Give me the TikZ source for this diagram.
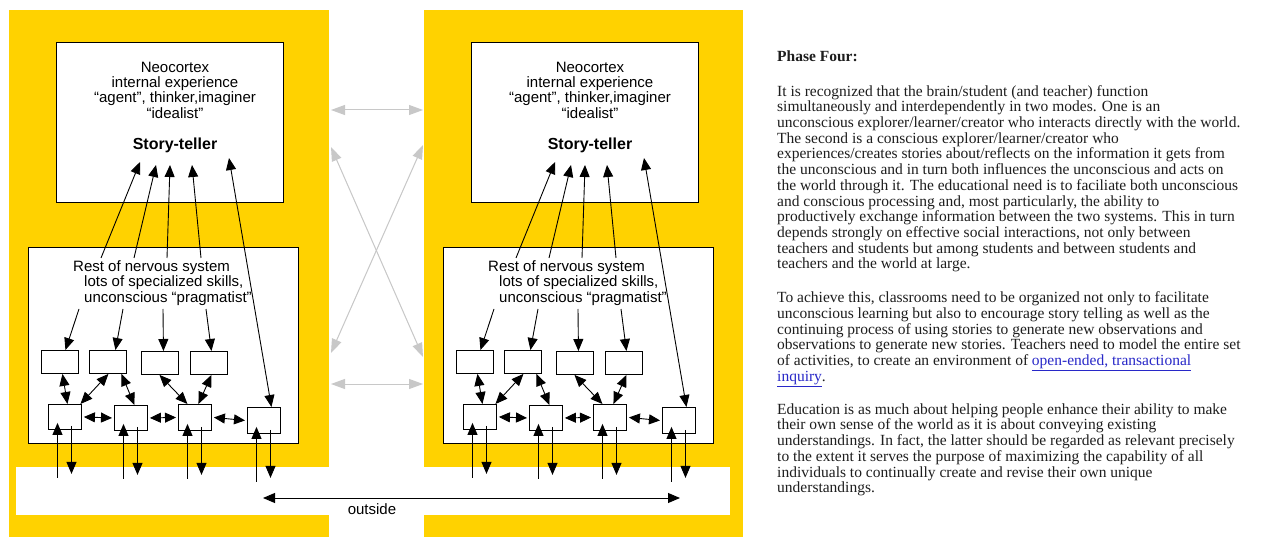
\documentclass[tikz,border=0pt]{standalone}
\usepackage{fontspec}
\setmainfont{Liberation Serif}
\newfontfamily\diafont{Liberation Sans}
\usetikzlibrary{arrows.meta,calc}
\definecolor{panelyellow}{RGB}{255,210,0}
\definecolor{linkblue}{RGB}{40,40,200}
\definecolor{graylink}{RGB}{200,200,200}
\definecolor{textcol}{RGB}{30,30,30}
\tikzset{
  bx/.style={draw=black, line width=1pt, fill=white, inner sep=0pt, anchor=north west},
  sbx/.style={draw=black, line width=0.9pt, fill=white, inner sep=0pt, anchor=north west},
  arr/.style={line width=0.9pt, -{Triangle[length=12pt,width=10pt]}},
  darr/.style={line width=0.9pt, {Triangle[length=12pt,width=10pt]}-{Triangle[length=12pt,width=10pt]}},
  harr/.style={line width=0.9pt, {Triangle[length=11pt,width=10pt]}-{Triangle[length=11pt,width=10pt]}},
  garr/.style={draw=graylink, fill=graylink, line width=1pt, {Triangle[length=14pt,width=10pt]}-{Triangle[length=14pt,width=10pt]}},
  diatxt/.style={font=\diafont\fontsize{15}{15.3}\selectfont, inner sep=0pt},
  bodytxt/.style={font=\fontsize{15.5}{15.7}\selectfont, text=textcol, inner sep=0pt, align=left, anchor=north west}
}
\begin{document}
\begin{tikzpicture}[x=1pt, y=-1pt]
\useasboundingbox (0,0) rectangle (1261,537);
\fill[white] (0,0) rectangle (1261,537);
% yellow panels and outside strip
\fill[panelyellow] (9,10) rectangle (329,537);
\fill[panelyellow] (424,10) rectangle (743,537);
\fill[white] (16,467) rectangle (730,515);

\foreach \p/\dx in {L/0,R/415}{
\begin{scope}[xshift=\dx pt]
  \node[bx, minimum width=227, minimum height=160] (\p neo) at (56,42) {};
  \node[bx, minimum width=270, minimum height=196] (\p rest) at (28,247) {};
  \node[diatxt, anchor=north, align=center] (\p neotxt) at (175,61)
    {\rule{0pt}{11pt}Neocortex\\internal experience\\“agent”, thinker,imaginer\\“idealist”};
  \node[font=\diafont\bfseries\fontsize{16}{18}\selectfont, inner sep=0pt, anchor=base] (\p st) at (175,150) {Story-teller};
  \node[diatxt, anchor=north west, align=left, font=\diafont\fontsize{15}{15.5}\selectfont] (\p resttxt) at (73,260)
    {\rule{0pt}{11pt}Rest of nervous system\\\hspace*{11pt}lots of specialized skills,\\\hspace*{11pt}unconscious “pragmatist”};
  % small boxes
  \node[sbx, minimum width=37, minimum height=23] (\p b1) at (41,350) {};
  \node[sbx, minimum width=37, minimum height=23] (\p b2) at (89,350) {};
  \node[sbx, minimum width=37, minimum height=23] (\p b3) at (141,351) {};
  \node[sbx, minimum width=37, minimum height=23] (\p b4) at (190,351) {};
  \node[sbx, minimum width=33, minimum height=25] (\p b5) at (48,404) {};
  \node[sbx, minimum width=33, minimum height=25] (\p b6) at (114,405) {};
  \node[sbx, minimum width=33, minimum height=26] (\p b7) at (178,404) {};
  \node[sbx, minimum width=33, minimum height=26] (\p b8) at (247,407) {};
  % arrows up to the story-teller
  \coordinate (\p s1) at (101,258); \coordinate (\p t1) at (140,162);
  \coordinate (\p s2) at (134,258); \coordinate (\p t2) at (156,165);
  \coordinate (\p s3) at (167,258); \coordinate (\p t3) at (170,165);
  \coordinate (\p s4) at (201,258); \coordinate (\p t4) at (192,165);
  \coordinate (\p t5) at (229,158);
  \draw[arr] (\p s1) -- (\p t1);
  \draw[arr] (\p s2) -- (\p t2);
  \draw[arr] (\p s3) -- (\p t3);
  \draw[arr] (\p s4) -- (\p t4);
  \draw[darr] (\p t5) -- ($(\p b8.north)+(7.5,0)$);
  % arrows down to upper small boxes
  \coordinate (\p d1) at (79,309);
  \coordinate (\p d2) at (123,309);
  \coordinate (\p d3) at (163,309);
  \coordinate (\p d4) at (206,309);
  \draw[arr] (\p d1) -- ($(\p b1.north)+(5.5,0)$);
  \draw[arr] (\p d2) -- ($(\p b2.north)+(7.5,0)$);
  \draw[arr] (\p d3) -- ($(\p b3.north)+(3.5,0)$);
  \draw[arr] (\p d4) -- ($(\p b4.north)+(2.5,0)$);
  % between rows
  \draw[darr] ($(\p b1.south)+(2.5,0)$) -- ($(\p b5.north)+(2.5,0)$);
  \draw[darr] ($(\p b2.south)+(0.5,0)$) -- ($(\p b5.north)+(15.5,0)$);
  \draw[darr] ($(\p b2.south)+(13.5,0)$) -- ($(\p b6.north)+(3.5,0)$);
  \draw[darr] ($(\p b3.south)+(-0.5,0)$) -- ($(\p b7.north)+(-7.5,0)$);
  \draw[darr] ($(\p b4.south)+(2.5,0)$) -- ($(\p b7.north)+(3.5,0)$);
  % lower row horizontal
  \draw[harr] ($(\p b5.east)+(2,0)$) -- ($(\p b6.west)+(-2,0)$);
  \draw[harr] ($(\p b6.east)+(2,0)$) -- ($(\p b7.west)+(-2,0)$);
  \draw[harr] ($(\p b7.east)+(2,0)$) -- ($(\p b8.west)+(-2,0)$);
  % to and from outside
  \foreach \b in {b5,b6,b7,b8}{
    \draw[arr] ($(\p\b.south west)+(9.5,48)$) -- ($(\p\b.south west)+(9.5,-7)$);
    \draw[arr] ($(\p\b.south west)+(23.5,-4)$) -- ($(\p\b.south west)+(23.5,44)$);
  }
\end{scope}
}

% outside
\coordinate (oL) at (263,498);
\coordinate (oR) at (680,498);
\draw[darr] (oL) -- (oR);
\node[font=\diafont\fontsize{15}{18}\selectfont, inner sep=0pt, anchor=base] (outside) at (372,514) {outside};

% gray arrows between the panels
\coordinate (g1) at (331,110); \coordinate (g2) at (423,110);
\coordinate (g3) at (331,147); \coordinate (g4) at (423,357);
\coordinate (g5) at (423,145); \coordinate (g6) at (331,353);
\coordinate (g7) at (331,384); \coordinate (g8) at (423,384);
\draw[garr] (g1) -- (g2);
\draw[garr] (g3) -- (g4);
\draw[garr] (g5) -- (g6);
\draw[garr] (g7) -- (g8);

% text column
\node[font=\bfseries\fontsize{15.5}{15.7}\selectfont, text=textcol, inner sep=0pt, anchor=base west] (title) at (777,62) {Phase Four:};
\node[bodytxt] (p1) at (777,85) {\rule{0pt}{11pt}It is recognized that the brain/student (and teacher) function\\
simultaneously and interdependently in two modes. One is an\\
unconscious explorer/learner/creator who interacts directly with the world.\\
The second is a conscious explorer/learner/creator who\\
experiences/creates stories about/reflects on the information it gets from\\
the unconscious and in turn both influences the unconscious and acts on\\
the world through it. The educational need is to faciliate both unconscious\\
and conscious processing and, most particularly, the ability to\\
productively exchange information between the two systems. This in turn\\
depends strongly on effective social interactions, not only between\\
teachers and students but among students and between students and\\
teachers and the world at large.};
\node[bodytxt] (p2) at (777,291.5) {\rule{0pt}{11pt}To achieve this, classrooms need to be organized not only to facilitate\\
unconscious learning but also to encourage story telling as well as the\\
continuing process of using stories to generate new observations and\\
observations to generate new stories. Teachers need to model the entire set\\
of activities, to create an environment of \textcolor{linkblue}{\underline{open-ended, transactional}}\\
\textcolor{linkblue}{\underline{inquiry}}.};
\node[bodytxt] (p3) at (777,403) {\rule{0pt}{11pt}Education is as much about helping people enhance their ability to make\\
their own sense of the world as it is about conveying existing\\
understandings. In fact, the latter should be regarded as relevant precisely\\
to the extent it serves the purpose of maximizing the capability of all\\
individuals to continually create and revise their own unique\\
understandings.};
\end{tikzpicture}
\end{document}
